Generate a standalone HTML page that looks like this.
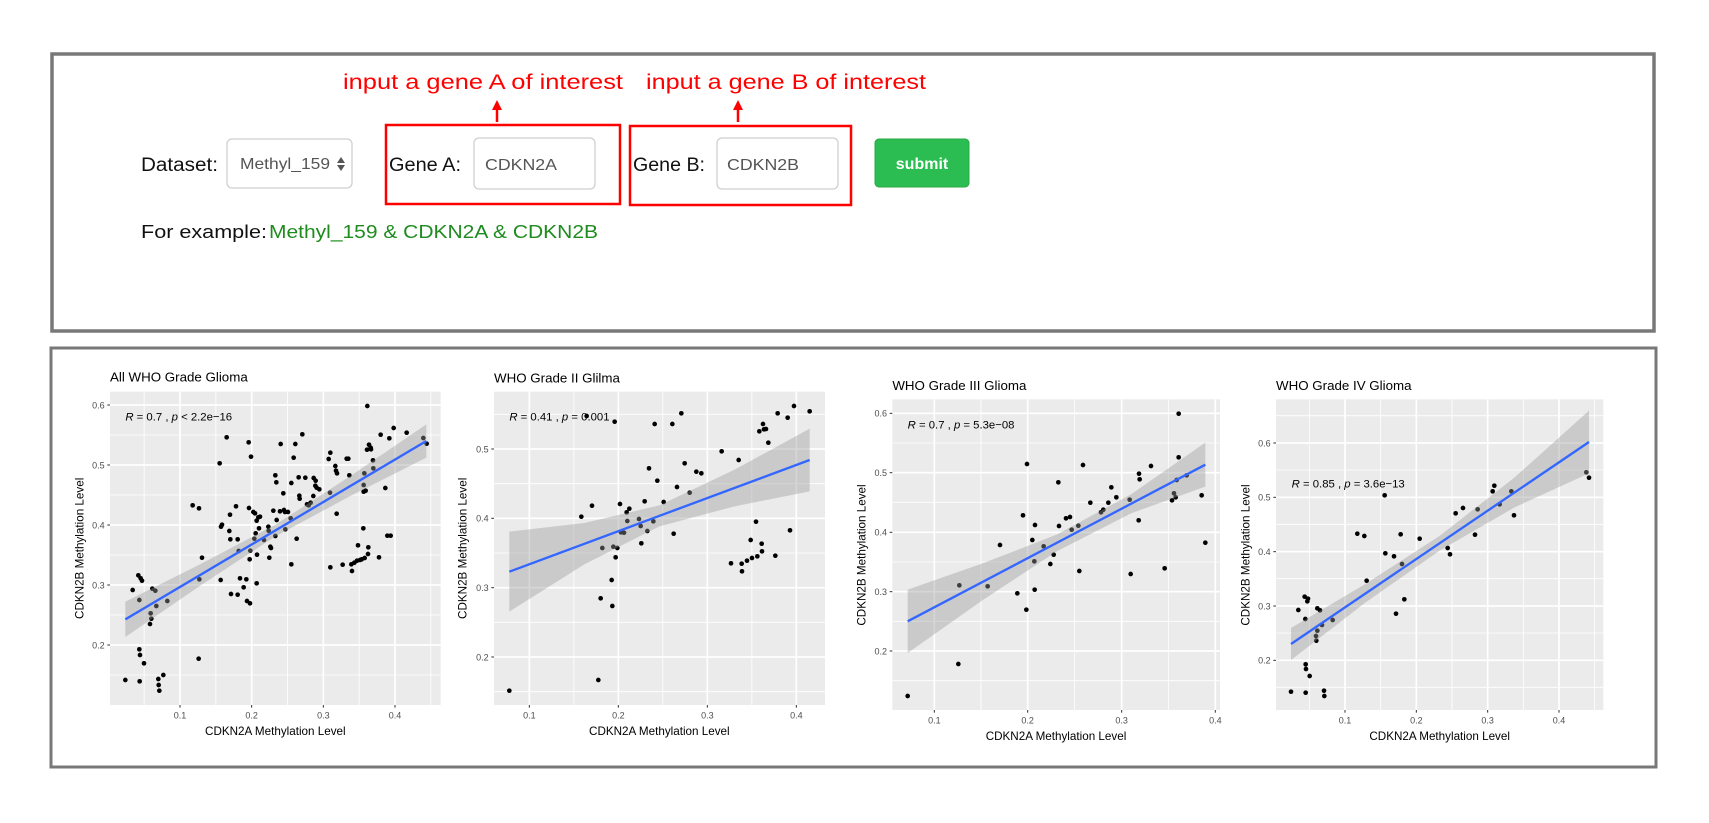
<!DOCTYPE html>
<html><head><meta charset="utf-8"><style>html,body{margin:0;padding:0;background:#fff}svg{display:block}</style></head>
<body>
<svg width="1709" height="823" viewBox="0 0 1709 823" xmlns="http://www.w3.org/2000/svg" font-family="Liberation Sans, Arial, sans-serif">
<rect width="1709" height="823" fill="#fff"/>
<!-- top box -->
<rect x="52" y="54" width="1602" height="277" fill="#fff" stroke="#787878" stroke-width="3.5"/>
<text x="343" y="89" font-size="21" fill="#ff0000" textLength="280" lengthAdjust="spacingAndGlyphs">input a gene A of interest</text>
<text x="646" y="89" font-size="21" fill="#ff0000" textLength="280" lengthAdjust="spacingAndGlyphs">input a gene B of interest</text>
<line x1="497" y1="122" x2="497" y2="108" stroke="#ff0000" stroke-width="2.5"/>
<polygon points="497,100 492,110 502,110" fill="#ff0000"/>
<line x1="738" y1="122" x2="738" y2="108" stroke="#ff0000" stroke-width="2.5"/>
<polygon points="738,100 733,110 743,110" fill="#ff0000"/>
<rect x="386" y="125" width="234" height="79" fill="none" stroke="#ff0000" stroke-width="2.5"/>
<rect x="630" y="126" width="221" height="79" fill="none" stroke="#ff0000" stroke-width="2.5"/>
<text x="141" y="171" font-size="19" fill="#111" textLength="77" lengthAdjust="spacingAndGlyphs">Dataset:</text>
<rect x="227" y="139" width="125" height="49" rx="5" fill="#fff" stroke="#cfcfcf" stroke-width="1.3"/>
<text x="240" y="169" font-size="16" fill="#555" textLength="90" lengthAdjust="spacingAndGlyphs">Methyl_159</text>
<polygon points="341,157 337,163 345,163" fill="#555"/><polygon points="341,171 337,165 345,165" fill="#555"/>
<text x="389" y="171" font-size="19" fill="#111" textLength="72" lengthAdjust="spacingAndGlyphs">Gene A:</text>
<rect x="474" y="138" width="121" height="51" rx="5" fill="#fff" stroke="#cfcfcf" stroke-width="1.3"/>
<text x="485" y="170" font-size="16" fill="#555" textLength="72" lengthAdjust="spacingAndGlyphs">CDKN2A</text>
<text x="633" y="171" font-size="19" fill="#111" textLength="72" lengthAdjust="spacingAndGlyphs">Gene B:</text>
<rect x="717" y="138" width="121" height="51" rx="5" fill="#fff" stroke="#cfcfcf" stroke-width="1.3"/>
<text x="727" y="170" font-size="16" fill="#555" textLength="72" lengthAdjust="spacingAndGlyphs">CDKN2B</text>
<rect x="875" y="139" width="94" height="48" rx="4" fill="#2bbd51" stroke="#28a745" stroke-width="1"/>
<text x="922" y="169" font-size="16" font-weight="bold" fill="#fff" text-anchor="middle">submit</text>
<text x="141" y="238" font-size="18" fill="#111" textLength="126" lengthAdjust="spacingAndGlyphs">For example:</text>
<text x="269" y="238" font-size="18" fill="#1e8c1e" textLength="329" lengthAdjust="spacingAndGlyphs">Methyl_159 &amp; CDKN2A &amp; CDKN2B</text>

<!-- bottom box -->
<rect x="51" y="348" width="1605" height="419" fill="#fff" stroke="#787878" stroke-width="3"/>

<!-- Panel 1 -->
<g transform="translate(50,350) scale(0.33333)">
<text x="180" y="95" font-size="40" fill="#000">All WHO Grade Glioma</text>
<rect x="180" y="125" width="992" height="940" fill="#ebebeb"/>
<g stroke="#fff" stroke-width="2.5">
<line x1="282.5" y1="125" x2="282.5" y2="1065"/><line x1="497.5" y1="125" x2="497.5" y2="1065"/><line x1="712.5" y1="125" x2="712.5" y2="1065"/><line x1="927.5" y1="125" x2="927.5" y2="1065"/><line x1="1142.5" y1="125" x2="1142.5" y2="1065"/>
<line x1="180" y1="255" x2="1172" y2="255"/><line x1="180" y1="435" x2="1172" y2="435"/><line x1="180" y1="615" x2="1172" y2="615"/><line x1="180" y1="795" x2="1172" y2="795"/><line x1="180" y1="975" x2="1172" y2="975"/>
</g>
<g stroke="#fff" stroke-width="5">
<line x1="390" y1="125" x2="390" y2="1065"/><line x1="605" y1="125" x2="605" y2="1065"/><line x1="820" y1="125" x2="820" y2="1065"/><line x1="1035" y1="125" x2="1035" y2="1065"/>
<line x1="180" y1="165" x2="1172" y2="165"/><line x1="180" y1="345" x2="1172" y2="345"/><line x1="180" y1="525" x2="1172" y2="525"/><line x1="180" y1="705" x2="1172" y2="705"/><line x1="180" y1="885" x2="1172" y2="885"/>
</g>
<g fill="#000">
<circle cx="226" cy="990" r="7"/><circle cx="248" cy="720" r="7"/><circle cx="268" cy="750" r="7"/><circle cx="265" cy="676" r="7"/><circle cx="272" cy="685" r="7"/><circle cx="276" cy="692" r="7"/><circle cx="269" cy="994" r="7"/><circle cx="268" cy="898" r="7"/><circle cx="270" cy="915" r="7"/><circle cx="282" cy="940" r="7"/><circle cx="300" cy="822" r="7"/><circle cx="304" cy="806" r="7"/><circle cx="302" cy="790" r="7"/><circle cx="307" cy="716" r="7"/><circle cx="316" cy="722" r="7"/><circle cx="319" cy="768" r="7"/><circle cx="325" cy="987" r="7"/><circle cx="326" cy="1005" r="7"/><circle cx="328" cy="1022" r="7"/><circle cx="340" cy="975" r="7"/><circle cx="352" cy="753" r="7"/><circle cx="428" cy="466" r="7"/><circle cx="447" cy="475" r="7"/><circle cx="448" cy="688" r="7"/><circle cx="446" cy="926" r="7"/><circle cx="456" cy="623" r="7"/><circle cx="509" cy="340" r="7"/><circle cx="512" cy="690" r="7"/><circle cx="513" cy="530" r="7"/><circle cx="516" cy="524" r="7"/><circle cx="530" cy="262" r="7"/><circle cx="540" cy="494" r="7"/><circle cx="538" cy="543" r="7"/><circle cx="543" cy="732" r="7"/><circle cx="541" cy="568" r="7"/><circle cx="558" cy="469" r="7"/><circle cx="563" cy="568" r="7"/><circle cx="563" cy="734" r="7"/><circle cx="566" cy="603" r="7"/><circle cx="570" cy="685" r="7"/><circle cx="581" cy="712" r="7"/><circle cx="589" cy="688" r="7"/><circle cx="591" cy="753" r="7"/><circle cx="596" cy="277" r="7"/><circle cx="597" cy="474" r="7"/><circle cx="600" cy="760" r="7"/><circle cx="599" cy="628" r="7"/><circle cx="603" cy="320" r="7"/><circle cx="601" cy="602" r="7"/><circle cx="610" cy="486" r="7"/><circle cx="613" cy="566" r="7"/><circle cx="617" cy="550" r="7"/><circle cx="615" cy="490" r="7"/><circle cx="620" cy="700" r="7"/><circle cx="621" cy="614" r="7"/><circle cx="620" cy="512" r="7"/><circle cx="625" cy="502" r="7"/><circle cx="630" cy="500" r="7"/><circle cx="627" cy="535" r="7"/><circle cx="642" cy="570" r="7"/><circle cx="655" cy="530" r="7"/><circle cx="656" cy="542" r="7"/><circle cx="658" cy="623" r="7"/><circle cx="661" cy="590" r="7"/><circle cx="663" cy="594" r="7"/><circle cx="670" cy="482" r="7"/><circle cx="676" cy="376" r="7"/><circle cx="676" cy="558" r="7"/><circle cx="679" cy="397" r="7"/><circle cx="680" cy="510" r="7"/><circle cx="690" cy="484" r="7"/><circle cx="692" cy="282" r="7"/><circle cx="700" cy="430" r="7"/><circle cx="702" cy="480" r="7"/><circle cx="706" cy="538" r="7"/><circle cx="705" cy="486" r="7"/><circle cx="714" cy="486" r="7"/><circle cx="722" cy="505" r="7"/><circle cx="724" cy="643" r="7"/><circle cx="724" cy="399" r="7"/><circle cx="731" cy="323" r="7"/><circle cx="736" cy="282" r="7"/><circle cx="740" cy="566" r="7"/><circle cx="746" cy="382" r="7"/><circle cx="748" cy="437" r="7"/><circle cx="749" cy="446" r="7"/><circle cx="757" cy="253" r="7"/><circle cx="766" cy="383" r="7"/><circle cx="771" cy="463" r="7"/><circle cx="776" cy="466" r="7"/><circle cx="782" cy="458" r="7"/><circle cx="790" cy="438" r="7"/><circle cx="791" cy="384" r="7"/><circle cx="796" cy="407" r="7"/><circle cx="797" cy="392" r="7"/><circle cx="800" cy="413" r="7"/><circle cx="808" cy="418" r="7"/><circle cx="836" cy="327" r="7"/><circle cx="841" cy="308" r="7"/><circle cx="841" cy="652" r="7"/><circle cx="840" cy="428" r="7"/><circle cx="856" cy="348" r="7"/><circle cx="858" cy="362" r="7"/><circle cx="860" cy="491" r="7"/><circle cx="861" cy="370" r="7"/><circle cx="878" cy="644" r="7"/><circle cx="890" cy="326" r="7"/><circle cx="895" cy="326" r="7"/><circle cx="898" cy="376" r="7"/><circle cx="904" cy="643" r="7"/><circle cx="906" cy="663" r="7"/><circle cx="913" cy="638" r="7"/><circle cx="921" cy="632" r="7"/><circle cx="924" cy="586" r="7"/><circle cx="930" cy="630" r="7"/><circle cx="935" cy="628" r="7"/><circle cx="940" cy="535" r="7"/><circle cx="941" cy="405" r="7"/><circle cx="941" cy="425" r="7"/><circle cx="943" cy="370" r="7"/><circle cx="944" cy="624" r="7"/><circle cx="947" cy="422" r="7"/><circle cx="952" cy="168" r="7"/><circle cx="951" cy="299" r="7"/><circle cx="954" cy="612" r="7"/><circle cx="955" cy="592" r="7"/><circle cx="957" cy="284" r="7"/><circle cx="962" cy="293" r="7"/><circle cx="963" cy="298" r="7"/><circle cx="969" cy="331" r="7"/><circle cx="970" cy="355" r="7"/><circle cx="987" cy="622" r="7"/><circle cx="992" cy="254" r="7"/><circle cx="1006" cy="414" r="7"/><circle cx="1012" cy="557" r="7"/><circle cx="1018" cy="265" r="7"/><circle cx="1022" cy="557" r="7"/><circle cx="1031" cy="234" r="7"/><circle cx="1070" cy="248" r="7"/><circle cx="1120" cy="264" r="7"/><circle cx="1130" cy="281" r="7"/>
</g>
<polygon points="226,755 452,642 678,523 903,377 1129,223 1129,323 903,437 678,558 452,706 226,861" fill="#999" fill-opacity="0.4"/>
<line x1="226" y1="808" x2="1129" y2="273" stroke="#3366ff" stroke-width="7"/>
<text x="226" y="212" font-size="34" fill="#000"><tspan font-style="italic">R</tspan> = 0.7 , <tspan font-style="italic">p</tspan> &lt; 2.2e−16</text>
<g stroke="#333" stroke-width="3"><line x1="172" y1="165" x2="180" y2="165"/><line x1="172" y1="345" x2="180" y2="345"/><line x1="172" y1="525" x2="180" y2="525"/><line x1="172" y1="705" x2="180" y2="705"/><line x1="172" y1="885" x2="180" y2="885"/>
<line x1="390" y1="1065" x2="390" y2="1073"/><line x1="605" y1="1065" x2="605" y2="1073"/><line x1="820" y1="1065" x2="820" y2="1073"/><line x1="1035" y1="1065" x2="1035" y2="1073"/></g>
<g font-size="27" fill="#4d4d4d" text-anchor="end"><text x="164" y="175">0.6</text><text x="164" y="355">0.5</text><text x="164" y="535">0.4</text><text x="164" y="715">0.3</text><text x="164" y="895">0.2</text></g>
<g font-size="27" fill="#4d4d4d" text-anchor="middle"><text x="390" y="1105">0.1</text><text x="605" y="1105">0.2</text><text x="820" y="1105">0.3</text><text x="1035" y="1105">0.4</text></g>
<text x="676" y="1155" font-size="35" text-anchor="middle" fill="#000">CDKN2A Methylation Level</text>
<text transform="translate(100,595) rotate(-90)" font-size="35" text-anchor="middle" fill="#000">CDKN2B Methylation Level</text>
</g>

<!-- Panel 2 -->
<g transform="translate(440,350) scale(0.33333)">
<text x="162" y="97" font-size="40" fill="#000">WHO Grade II Glilma</text>
<rect x="162" y="125" width="993" height="940" fill="#ebebeb"/>
<g stroke="#fff" stroke-width="2.5">
<line x1="401.5" y1="125" x2="401.5" y2="1065"/><line x1="668.5" y1="125" x2="668.5" y2="1065"/><line x1="935.5" y1="125" x2="935.5" y2="1065"/>
<line x1="162" y1="193" x2="1155" y2="193"/><line x1="162" y1="401" x2="1155" y2="401"/><line x1="162" y1="609" x2="1155" y2="609"/><line x1="162" y1="817" x2="1155" y2="817"/><line x1="162" y1="1025" x2="1155" y2="1025"/>
</g>
<g stroke="#fff" stroke-width="5">
<line x1="268" y1="125" x2="268" y2="1065"/><line x1="535" y1="125" x2="535" y2="1065"/><line x1="802" y1="125" x2="802" y2="1065"/><line x1="1069" y1="125" x2="1069" y2="1065"/>
<line x1="162" y1="297" x2="1155" y2="297"/><line x1="162" y1="505" x2="1155" y2="505"/><line x1="162" y1="713" x2="1155" y2="713"/><line x1="162" y1="921" x2="1155" y2="921"/>
</g>
<g fill="#000">
<circle cx="208" cy="1022" r="7"/><circle cx="424" cy="500" r="7"/><circle cx="456" cy="467" r="7"/><circle cx="475" cy="990" r="7"/><circle cx="482" cy="745" r="7"/><circle cx="487" cy="594" r="7"/><circle cx="515" cy="690" r="7"/><circle cx="517" cy="768" r="7"/><circle cx="520" cy="590" r="7"/><circle cx="524" cy="215" r="7"/><circle cx="527" cy="622" r="7"/><circle cx="532" cy="594" r="7"/><circle cx="540" cy="462" r="7"/><circle cx="543" cy="547" r="7"/><circle cx="552" cy="548" r="7"/><circle cx="560" cy="487" r="7"/><circle cx="562" cy="513" r="7"/><circle cx="568" cy="476" r="7"/><circle cx="597" cy="507" r="7"/><circle cx="602" cy="528" r="7"/><circle cx="604" cy="580" r="7"/><circle cx="614" cy="454" r="7"/><circle cx="622" cy="543" r="7"/><circle cx="627" cy="355" r="7"/><circle cx="640" cy="514" r="7"/><circle cx="644" cy="222" r="7"/><circle cx="652" cy="392" r="7"/><circle cx="671" cy="456" r="7"/><circle cx="697" cy="222" r="7"/><circle cx="701" cy="551" r="7"/><circle cx="711" cy="411" r="7"/><circle cx="724" cy="190" r="7"/><circle cx="734" cy="340" r="7"/><circle cx="749" cy="428" r="7"/><circle cx="769" cy="365" r="7"/><circle cx="784" cy="370" r="7"/><circle cx="845" cy="304" r="7"/><circle cx="873" cy="640" r="7"/><circle cx="896" cy="330" r="7"/><circle cx="905" cy="641" r="7"/><circle cx="906" cy="664" r="7"/><circle cx="921" cy="632" r="7"/><circle cx="932" cy="570" r="7"/><circle cx="936" cy="624" r="7"/><circle cx="948" cy="515" r="7"/><circle cx="952" cy="619" r="7"/><circle cx="958" cy="244" r="7"/><circle cx="965" cy="581" r="7"/><circle cx="966" cy="604" r="7"/><circle cx="969" cy="222" r="7"/><circle cx="972" cy="238" r="7"/><circle cx="978" cy="237" r="7"/><circle cx="985" cy="278" r="7"/><circle cx="1006" cy="617" r="7"/><circle cx="1013" cy="190" r="7"/><circle cx="1043" cy="203" r="7"/><circle cx="1050" cy="541" r="7"/><circle cx="1062" cy="168" r="7"/><circle cx="1109" cy="184" r="7"/><circle cx="440" cy="198" r="7"/>
</g>
<polygon points="208,545 433,519 658,466 884,359 1109,236 1109,424 884,469 658,529 433,643 208,785" fill="#999" fill-opacity="0.4"/>
<line x1="208" y1="665" x2="1109" y2="330" stroke="#3366ff" stroke-width="7"/>
<text x="208" y="212" font-size="34" fill="#000"><tspan font-style="italic">R</tspan> = 0.41 , <tspan font-style="italic">p</tspan> = 0.001</text>
<g stroke="#333" stroke-width="3"><line x1="154" y1="297" x2="162" y2="297"/><line x1="154" y1="505" x2="162" y2="505"/><line x1="154" y1="713" x2="162" y2="713"/><line x1="154" y1="921" x2="162" y2="921"/>
<line x1="268" y1="1065" x2="268" y2="1073"/><line x1="535" y1="1065" x2="535" y2="1073"/><line x1="802" y1="1065" x2="802" y2="1073"/><line x1="1069" y1="1065" x2="1069" y2="1073"/></g>
<g font-size="27" fill="#4d4d4d" text-anchor="end"><text x="146" y="307">0.5</text><text x="146" y="515">0.4</text><text x="146" y="723">0.3</text><text x="146" y="931">0.2</text></g>
<g font-size="27" fill="#4d4d4d" text-anchor="middle"><text x="268" y="1105">0.1</text><text x="535" y="1105">0.2</text><text x="802" y="1105">0.3</text><text x="1069" y="1105">0.4</text></g>
<text x="658" y="1155" font-size="35" text-anchor="middle" fill="#000">CDKN2A Methylation Level</text>
<text transform="translate(80,595) rotate(-90)" font-size="35" text-anchor="middle" fill="#000">CDKN2B Methylation Level</text>
</g>

<!-- Panel 3 -->
<g transform="translate(840,360) scale(0.33333)">
<text x="157" y="90" font-size="40" fill="#000">WHO Grade III Glioma</text>
<rect x="157" y="118" width="983" height="932" fill="#ebebeb"/>
<g stroke="#fff" stroke-width="2.5">
<line x1="423" y1="118" x2="423" y2="1050"/><line x1="704" y1="118" x2="704" y2="1050"/><line x1="985" y1="118" x2="985" y2="1050"/>
<line x1="157" y1="249" x2="1140" y2="249"/><line x1="157" y1="427" x2="1140" y2="427"/><line x1="157" y1="606" x2="1140" y2="606"/><line x1="157" y1="784" x2="1140" y2="784"/><line x1="157" y1="962" x2="1140" y2="962"/>
</g>
<g stroke="#fff" stroke-width="5">
<line x1="283" y1="118" x2="283" y2="1050"/><line x1="563" y1="118" x2="563" y2="1050"/><line x1="845" y1="118" x2="845" y2="1050"/><line x1="1126" y1="118" x2="1126" y2="1050"/>
<line x1="157" y1="160" x2="1140" y2="160"/><line x1="157" y1="338" x2="1140" y2="338"/><line x1="157" y1="517" x2="1140" y2="517"/><line x1="157" y1="695" x2="1140" y2="695"/><line x1="157" y1="873" x2="1140" y2="873"/>
</g>
<g fill="#000">
<circle cx="203" cy="1008" r="7"/><circle cx="355" cy="912" r="7"/><circle cx="358" cy="676" r="7"/><circle cx="443" cy="679" r="7"/><circle cx="480" cy="555" r="7"/><circle cx="532" cy="700" r="7"/><circle cx="549" cy="466" r="7"/><circle cx="559" cy="749" r="7"/><circle cx="561" cy="312" r="7"/><circle cx="577" cy="540" r="7"/><circle cx="583" cy="604" r="7"/><circle cx="584" cy="689" r="7"/><circle cx="585" cy="495" r="7"/><circle cx="611" cy="559" r="7"/><circle cx="631" cy="612" r="7"/><circle cx="641" cy="584" r="7"/><circle cx="655" cy="367" r="7"/><circle cx="657" cy="498" r="7"/><circle cx="678" cy="475" r="7"/><circle cx="690" cy="471" r="7"/><circle cx="695" cy="509" r="7"/><circle cx="715" cy="497" r="7"/><circle cx="718" cy="633" r="7"/><circle cx="729" cy="315" r="7"/><circle cx="751" cy="428" r="7"/><circle cx="783" cy="457" r="7"/><circle cx="790" cy="449" r="7"/><circle cx="805" cy="428" r="7"/><circle cx="814" cy="382" r="7"/><circle cx="829" cy="412" r="7"/><circle cx="869" cy="419" r="7"/><circle cx="872" cy="642" r="7"/><circle cx="896" cy="481" r="7"/><circle cx="897" cy="341" r="7"/><circle cx="899" cy="358" r="7"/><circle cx="933" cy="318" r="7"/><circle cx="974" cy="625" r="7"/><circle cx="996" cy="421" r="7"/><circle cx="1002" cy="400" r="7"/><circle cx="1007" cy="412" r="7"/><circle cx="1010" cy="360" r="7"/><circle cx="1016" cy="161" r="7"/><circle cx="1016" cy="292" r="7"/><circle cx="1040" cy="346" r="7"/><circle cx="1085" cy="406" r="7"/><circle cx="1096" cy="548" r="7"/>
</g>
<polygon points="203,689 426,611 650,524 873,403 1096,248 1096,380 873,460 650,574 426,722 203,879" fill="#999" fill-opacity="0.4"/>
<line x1="203" y1="784" x2="1096" y2="314" stroke="#3366ff" stroke-width="7"/>
<text x="203" y="205" font-size="34" fill="#000"><tspan font-style="italic">R</tspan> = 0.7 , <tspan font-style="italic">p</tspan> = 5.3e−08</text>
<g stroke="#333" stroke-width="3"><line x1="149" y1="160" x2="157" y2="160"/><line x1="149" y1="338" x2="157" y2="338"/><line x1="149" y1="517" x2="157" y2="517"/><line x1="149" y1="695" x2="157" y2="695"/><line x1="149" y1="873" x2="157" y2="873"/>
<line x1="283" y1="1050" x2="283" y2="1058"/><line x1="563" y1="1050" x2="563" y2="1058"/><line x1="845" y1="1050" x2="845" y2="1058"/><line x1="1126" y1="1050" x2="1126" y2="1058"/></g>
<g font-size="27" fill="#4d4d4d" text-anchor="end"><text x="141" y="170">0.6</text><text x="141" y="348">0.5</text><text x="141" y="527">0.4</text><text x="141" y="705">0.3</text><text x="141" y="883">0.2</text></g>
<g font-size="27" fill="#4d4d4d" text-anchor="middle"><text x="283" y="1090">0.1</text><text x="563" y="1090">0.2</text><text x="845" y="1090">0.3</text><text x="1126" y="1090">0.4</text></g>
<text x="648" y="1140" font-size="35" text-anchor="middle" fill="#000">CDKN2A Methylation Level</text>
<text transform="translate(77,585) rotate(-90)" font-size="35" text-anchor="middle" fill="#000">CDKN2B Methylation Level</text>
</g>

<!-- Panel 4 -->
<g transform="translate(1230,360) scale(0.33333)">
<text x="138" y="90" font-size="40" fill="#000">WHO Grade IV Glioma</text>
<rect x="138" y="118" width="982" height="932" fill="#ebebeb"/>
<g stroke="#fff" stroke-width="2.5">
<line x1="238" y1="118" x2="238" y2="1050"/><line x1="452" y1="118" x2="452" y2="1050"/><line x1="666" y1="118" x2="666" y2="1050"/><line x1="880" y1="118" x2="880" y2="1050"/><line x1="1094" y1="118" x2="1094" y2="1050"/>
<line x1="138" y1="167" x2="1120" y2="167"/><line x1="138" y1="330" x2="1120" y2="330"/><line x1="138" y1="493" x2="1120" y2="493"/><line x1="138" y1="656" x2="1120" y2="656"/><line x1="138" y1="819" x2="1120" y2="819"/><line x1="138" y1="982" x2="1120" y2="982"/>
</g>
<g stroke="#fff" stroke-width="5">
<line x1="345" y1="118" x2="345" y2="1050"/><line x1="559" y1="118" x2="559" y2="1050"/><line x1="773" y1="118" x2="773" y2="1050"/><line x1="987" y1="118" x2="987" y2="1050"/>
<line x1="138" y1="249" x2="1120" y2="249"/><line x1="138" y1="412" x2="1120" y2="412"/><line x1="138" y1="575" x2="1120" y2="575"/><line x1="138" y1="738" x2="1120" y2="738"/><line x1="138" y1="901" x2="1120" y2="901"/>
</g>
<g fill="#000">
<circle cx="183" cy="995" r="7"/><circle cx="205" cy="750" r="7"/><circle cx="224" cy="710" r="7"/><circle cx="226" cy="777" r="7"/><circle cx="227" cy="913" r="7"/><circle cx="228" cy="927" r="7"/><circle cx="227" cy="998" r="7"/><circle cx="234" cy="716" r="7"/><circle cx="232" cy="724" r="7"/><circle cx="239" cy="948" r="7"/><circle cx="262" cy="745" r="7"/><circle cx="262" cy="812" r="7"/><circle cx="258" cy="828" r="7"/><circle cx="259" cy="842" r="7"/><circle cx="270" cy="751" r="7"/><circle cx="276" cy="795" r="7"/><circle cx="282" cy="992" r="7"/><circle cx="283" cy="1008" r="7"/><circle cx="308" cy="780" r="7"/><circle cx="382" cy="521" r="7"/><circle cx="403" cy="528" r="7"/><circle cx="410" cy="662" r="7"/><circle cx="464" cy="406" r="7"/><circle cx="466" cy="580" r="7"/><circle cx="492" cy="589" r="7"/><circle cx="498" cy="761" r="7"/><circle cx="512" cy="523" r="7"/><circle cx="516" cy="612" r="7"/><circle cx="523" cy="718" r="7"/><circle cx="569" cy="536" r="7"/><circle cx="653" cy="564" r="7"/><circle cx="660" cy="583" r="7"/><circle cx="677" cy="460" r="7"/><circle cx="699" cy="444" r="7"/><circle cx="735" cy="524" r="7"/><circle cx="743" cy="448" r="7"/><circle cx="788" cy="394" r="7"/><circle cx="793" cy="377" r="7"/><circle cx="809" cy="433" r="7"/><circle cx="844" cy="394" r="7"/><circle cx="852" cy="466" r="7"/><circle cx="1069" cy="337" r="7"/><circle cx="1077" cy="353" r="7"/>
</g>
<polygon points="183,804 406,672 630,527 854,352 1077,152 1077,340 854,442 630,571 406,728 183,900" fill="#999" fill-opacity="0.4"/>
<line x1="183" y1="852" x2="1077" y2="246" stroke="#3366ff" stroke-width="7"/>
<text x="185" y="383" font-size="34" fill="#000"><tspan font-style="italic">R</tspan> = 0.85 , <tspan font-style="italic">p</tspan> = 3.6e−13</text>
<g stroke="#333" stroke-width="3"><line x1="130" y1="249" x2="138" y2="249"/><line x1="130" y1="412" x2="138" y2="412"/><line x1="130" y1="575" x2="138" y2="575"/><line x1="130" y1="738" x2="138" y2="738"/><line x1="130" y1="901" x2="138" y2="901"/>
<line x1="345" y1="1050" x2="345" y2="1058"/><line x1="559" y1="1050" x2="559" y2="1058"/><line x1="773" y1="1050" x2="773" y2="1058"/><line x1="987" y1="1050" x2="987" y2="1058"/></g>
<g font-size="27" fill="#4d4d4d" text-anchor="end"><text x="122" y="259">0.6</text><text x="122" y="422">0.5</text><text x="122" y="585">0.4</text><text x="122" y="748">0.3</text><text x="122" y="911">0.2</text></g>
<g font-size="27" fill="#4d4d4d" text-anchor="middle"><text x="345" y="1090">0.1</text><text x="559" y="1090">0.2</text><text x="773" y="1090">0.3</text><text x="987" y="1090">0.4</text></g>
<text x="629" y="1140" font-size="35" text-anchor="middle" fill="#000">CDKN2A Methylation Level</text>
<text transform="translate(58,585) rotate(-90)" font-size="35" text-anchor="middle" fill="#000">CDKN2B Methylation Level</text>
</g>
</svg>
</body></html>
